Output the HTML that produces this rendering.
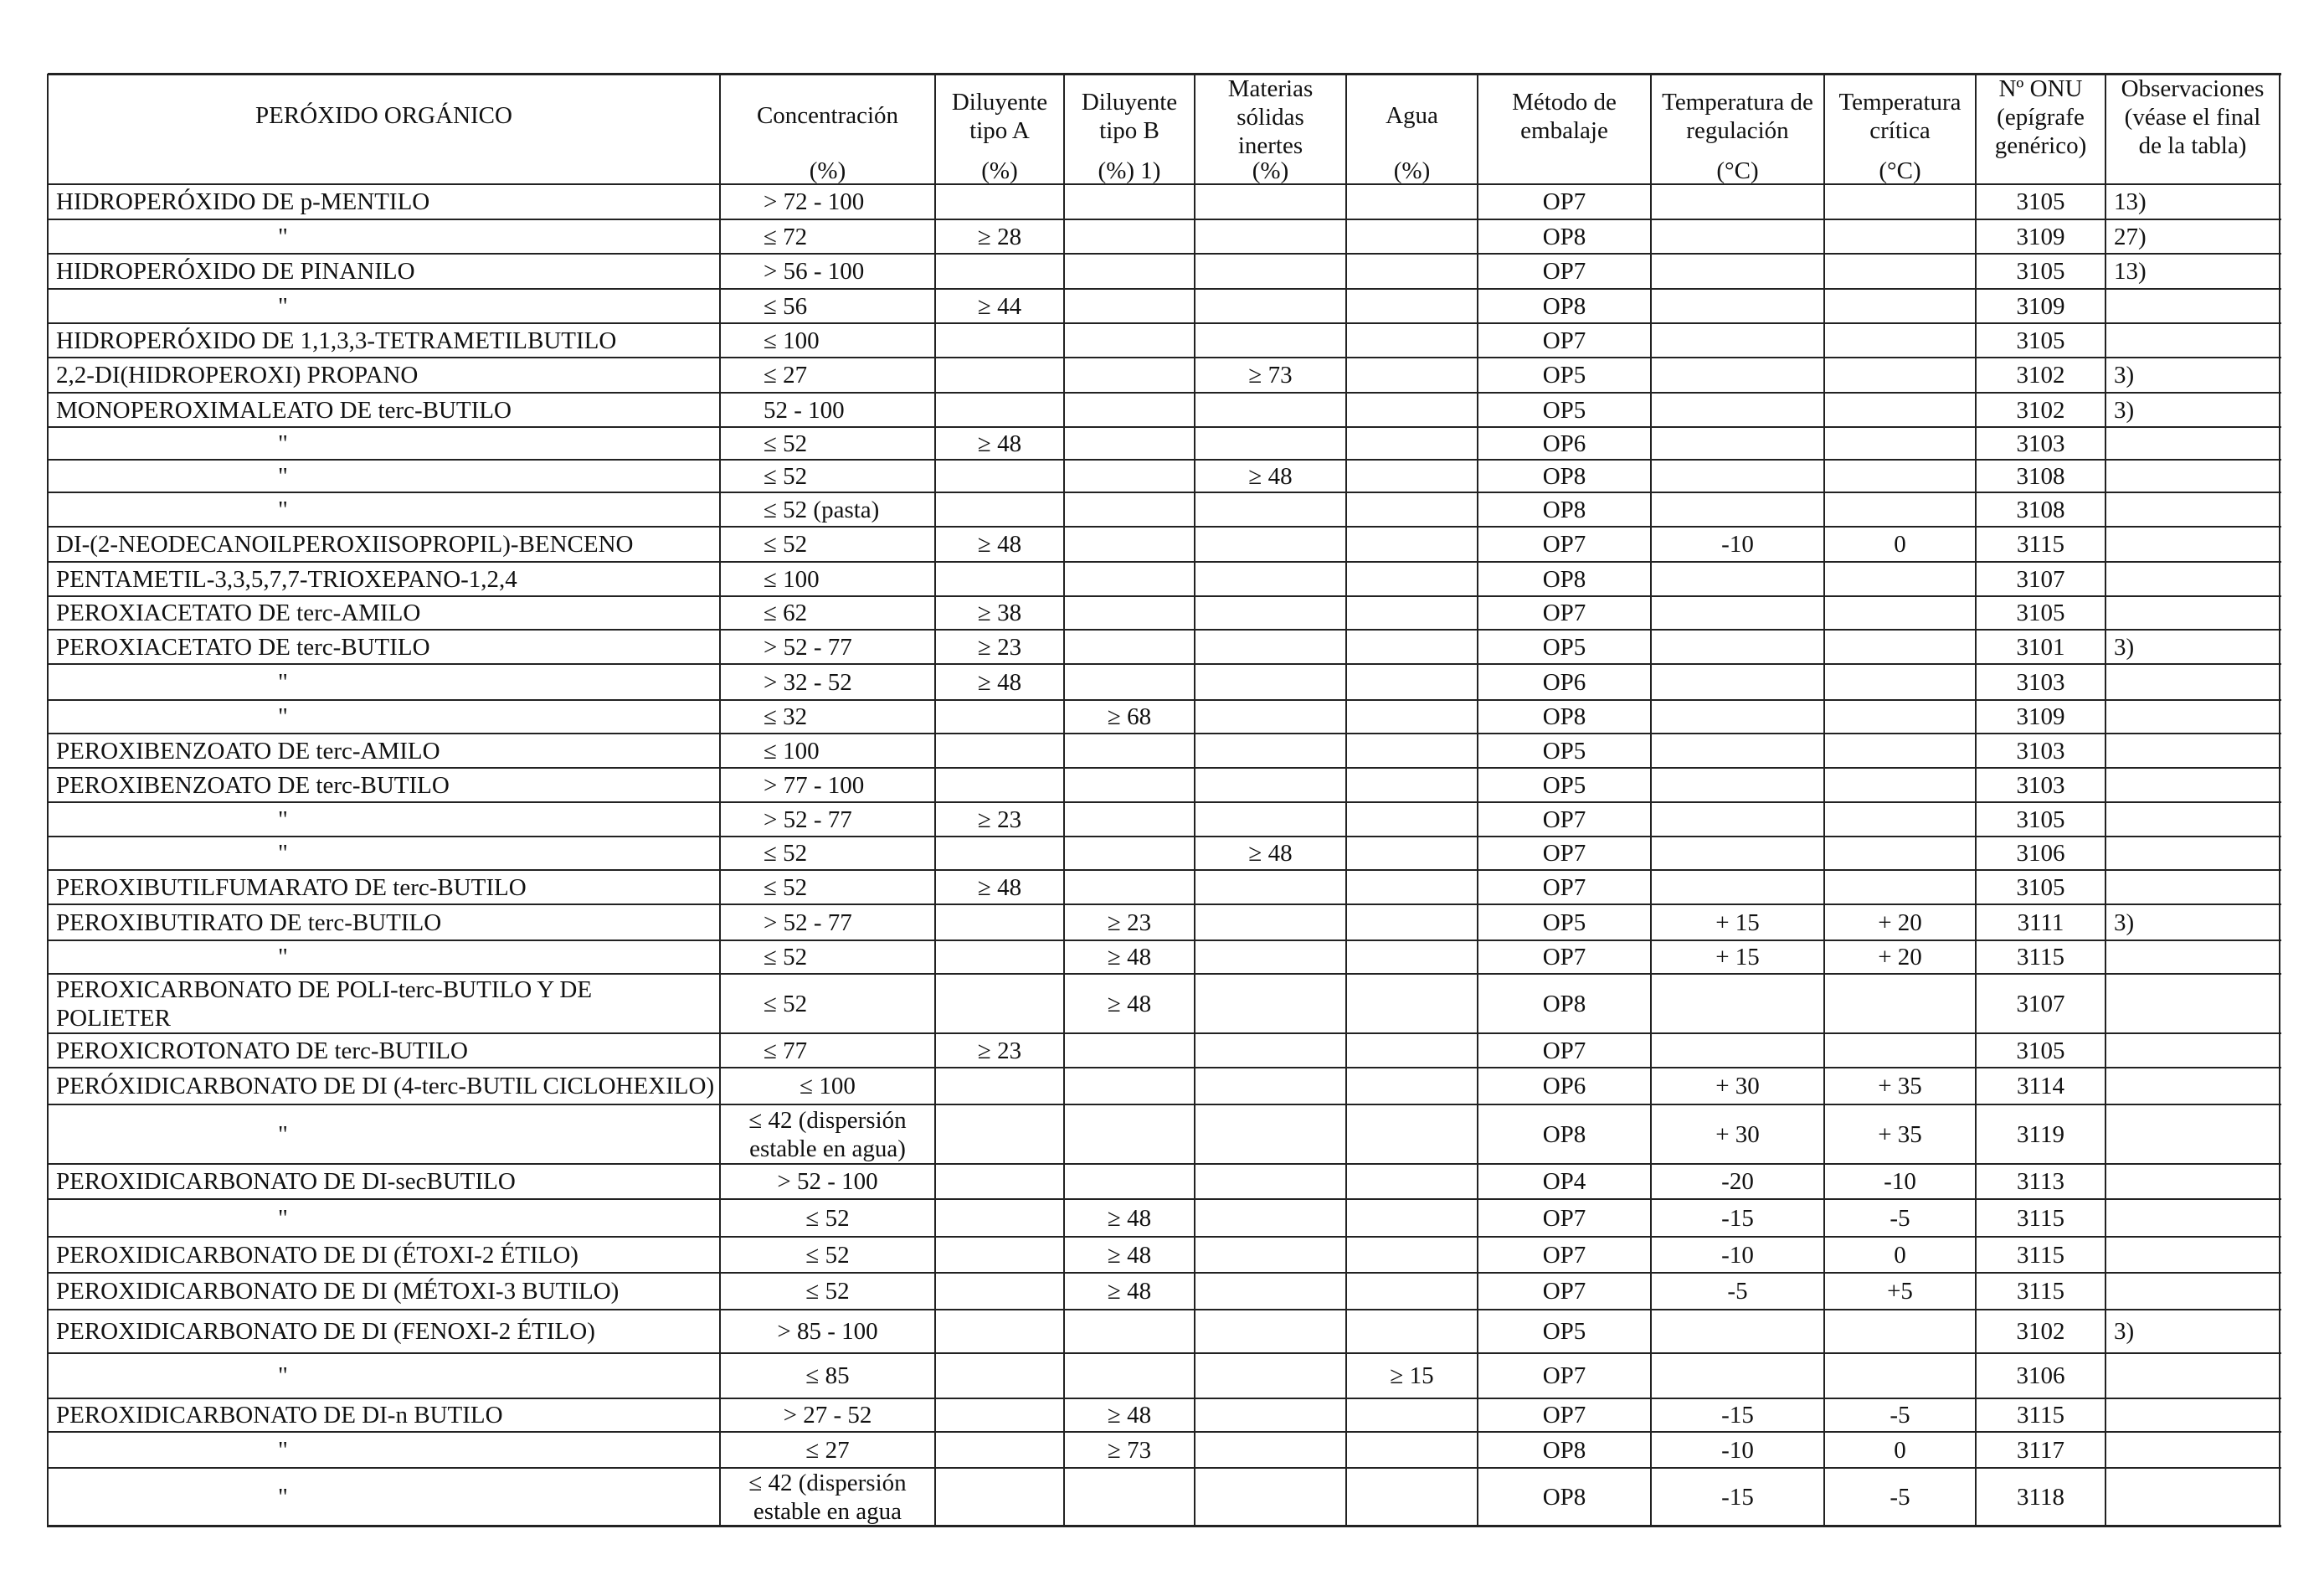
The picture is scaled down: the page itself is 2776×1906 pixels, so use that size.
<!DOCTYPE html>
<html><head><meta charset="utf-8">
<style>
html,body{margin:0;padding:0;background:#fff;}
#page{position:relative;width:2776px;height:1906px;overflow:hidden;background:#fff;font-family:"Liberation Serif",serif;font-size:29px;color:#111;}
.hl{position:absolute;height:2px;background:#222;}
.vl{position:absolute;width:2px;background:#222;}
.t{position:absolute;white-space:nowrap;line-height:34px;}
</style></head>
<body>
<div id="page"></div>
<script>
const colX=[57,860,1117,1271,1427,1608,1765,1972,2179,2360,2515,2723];
const rowY=[88,220,262,303,345,386,427,469,510,549,588,629,671,712,752,793,836,876,917,958,999,1039,1080,1123,1163,1234,1275,1319,1390,1432,1477,1520,1564,1616,1670,1710,1753,1822];
const headers=[
 [["PERÓXIDO ORGÁNICO",138]],
 [["Concentración",138],["(%)",204]],
 [["Diluyente",122],["tipo A",156],["(%)",204]],
 [["Diluyente",122],["tipo B",156],["(%) 1)",204]],
 [["Materias",106],["sólidas",140],["inertes",174],["(%)",204]],
 [["Agua",138],["(%)",204]],
 [["Método de",122],["embalaje",156]],
 [["Temperatura de",122],["regulación",156],["(°C)",204]],
 [["Temperatura",122],["crítica",156],["(°C)",204]],
 [["Nº ONU",106],["(epígrafe",140],["genérico)",174]],
 [["Observaciones",106],["(véase el final",140],["de la tabla)",174]]
];
const D='"';
const rows=[
["HIDROPERÓXIDO DE p-MENTILO","> 72 - 100","","","","","OP7","","","3105","13)"],
[D,"≤ 72","≥ 28","","","","OP8","","","3109","27)"],
["HIDROPERÓXIDO DE PINANILO","> 56 - 100","","","","","OP7","","","3105","13)"],
[D,"≤ 56","≥ 44","","","","OP8","","","3109",""],
["HIDROPERÓXIDO DE 1,1,3,3-TETRAMETILBUTILO","≤ 100","","","","","OP7","","","3105",""],
["2,2-DI(HIDROPEROXI) PROPANO","≤ 27","","","≥ 73","","OP5","","","3102","3)"],
["MONOPEROXIMALEATO DE terc-BUTILO","52 - 100","","","","","OP5","","","3102","3)"],
[D,"≤ 52","≥ 48","","","","OP6","","","3103",""],
[D,"≤ 52","","","≥ 48","","OP8","","","3108",""],
[D,"≤ 52 (pasta)","","","","","OP8","","","3108",""],
["DI-(2-NEODECANOILPEROXIISOPROPIL)-BENCENO","≤ 52","≥ 48","","","","OP7","-10","0","3115",""],
["PENTAMETIL-3,3,5,7,7-TRIOXEPANO-1,2,4","≤ 100","","","","","OP8","","","3107",""],
["PEROXIACETATO DE terc-AMILO","≤ 62","≥ 38","","","","OP7","","","3105",""],
["PEROXIACETATO DE terc-BUTILO","> 52 - 77","≥ 23","","","","OP5","","","3101","3)"],
[D,"> 32 - 52","≥ 48","","","","OP6","","","3103",""],
[D,"≤ 32","","≥ 68","","","OP8","","","3109",""],
["PEROXIBENZOATO DE terc-AMILO","≤ 100","","","","","OP5","","","3103",""],
["PEROXIBENZOATO DE terc-BUTILO","> 77 - 100","","","","","OP5","","","3103",""],
[D,"> 52 - 77","≥ 23","","","","OP7","","","3105",""],
[D,"≤ 52","","","≥ 48","","OP7","","","3106",""],
["PEROXIBUTILFUMARATO DE terc-BUTILO","≤ 52","≥ 48","","","","OP7","","","3105",""],
["PEROXIBUTIRATO DE terc-BUTILO","> 52 - 77","","≥ 23","","","OP5","+ 15","+ 20","3111","3)"],
[D,"≤ 52","","≥ 48","","","OP7","+ 15","+ 20","3115",""],
["PEROXICARBONATO DE POLI-terc-BUTILO Y DE|POLIETER","≤ 52","","≥ 48","","","OP8","","","3107",""],
["PEROXICROTONATO DE terc-BUTILO","≤ 77","≥ 23","","","","OP7","","","3105",""],
["PERÓXIDICARBONATO DE DI (4-terc-BUTIL CICLOHEXILO)","≤ 100","","","","","OP6","+ 30","+ 35","3114",""],
[D,"≤ 42 (dispersión|estable en agua)","","","","","OP8","+ 30","+ 35","3119",""],
["PEROXIDICARBONATO DE DI-secBUTILO","> 52 - 100","","","","","OP4","-20","-10","3113",""],
[D,"≤ 52","","≥ 48","","","OP7","-15","-5","3115",""],
["PEROXIDICARBONATO DE DI (ÉTOXI-2 ÉTILO)","≤ 52","","≥ 48","","","OP7","-10","0","3115",""],
["PEROXIDICARBONATO DE DI (MÉTOXI-3 BUTILO)","≤ 52","","≥ 48","","","OP7","-5","+5","3115",""],
["PEROXIDICARBONATO DE DI (FENOXI-2 ÉTILO)","> 85 - 100","","","","","OP5","","","3102","3)"],
[D,"≤ 85","","","","≥ 15","OP7","","","3106",""],
["PEROXIDICARBONATO DE DI-n BUTILO","> 27 - 52","","≥ 48","","","OP7","-15","-5","3115",""],
[D,"≤ 27","","≥ 73","","","OP8","-10","0","3117",""],
[D,"≤ 42 (dispersión|estable en agua","","","","","OP8","-15","-5","3118",""]
];
const colNames=["peroxide","concentration","diluent-a","diluent-b","inert-solids","water","packing-method","control-temp","critical-temp","un-number","observations"];
const page=document.getElementById('page');
const W=colX[colX.length-1]-colX[0];
rowY.forEach((y,i)=>{
  const h=document.createElement('div');
  h.className='hl';
  
  
  h.style.left=colX[0]+'px';h.style.top=(y-1)+'px';h.style.width=(W+2)+'px';
  if(i===0||i===rowY.length-1){h.style.height='3px';}
  page.appendChild(h);
});
colX.forEach(x=>{
  const v=document.createElement('div');
  v.className='vl';
  
  
  v.style.left=(x-1)+'px';v.style.top=rowY[0]+'px';v.style.height=(rowY[rowY.length-1]-rowY[0]+2)+'px';
  page.appendChild(v);
});
function addText(txt,x0,x1,cy,align,pad,name){
  const lines=txt.split('|');
  const d=document.createElement('div');
  d.className='t';
  
  
  d.innerHTML=lines.map(s=>s.replace(/&/g,'&amp;').replace(/</g,'&lt;').replace(/>/g,'&gt;')).join('<br>');
  d.style.top=(cy-lines.length*17)+'px';
  if(align==='center'){d.style.left=x0+'px';d.style.width=(x1-x0)+'px';d.style.textAlign='center';}
  else{d.style.left=(x0+pad)+'px';}
  page.appendChild(d);
}
headers.forEach((hs,c)=>{
  hs.forEach(([t,cy])=>addText(t,colX[c],colX[c+1],cy,'center',0,'header-'+colNames[c]));
});
rows.forEach((r,i)=>{
  const cy=(rowY[i+1]+rowY[i+2])/2;
  r.forEach((v,c)=>{
    if(!v)return;
    const x0=colX[c],x1=colX[c+1];
    const name='cell-'+colNames[c];
    if(c===0){
      if(v===D) addText(v,x0,x1,cy,'left',275,name);
      else addText(v,x0,x1,cy,'left',10,name);
    } else if(c===1 && i<25){
      addText(v,x0,x1,cy,'left',52,name);
    } else if(c===10){
      addText(v,x0,x1,cy,'left',10,name);
    } else addText(v,x0,x1,cy,'center',0,name);
  });
});
</script>
</body></html>
